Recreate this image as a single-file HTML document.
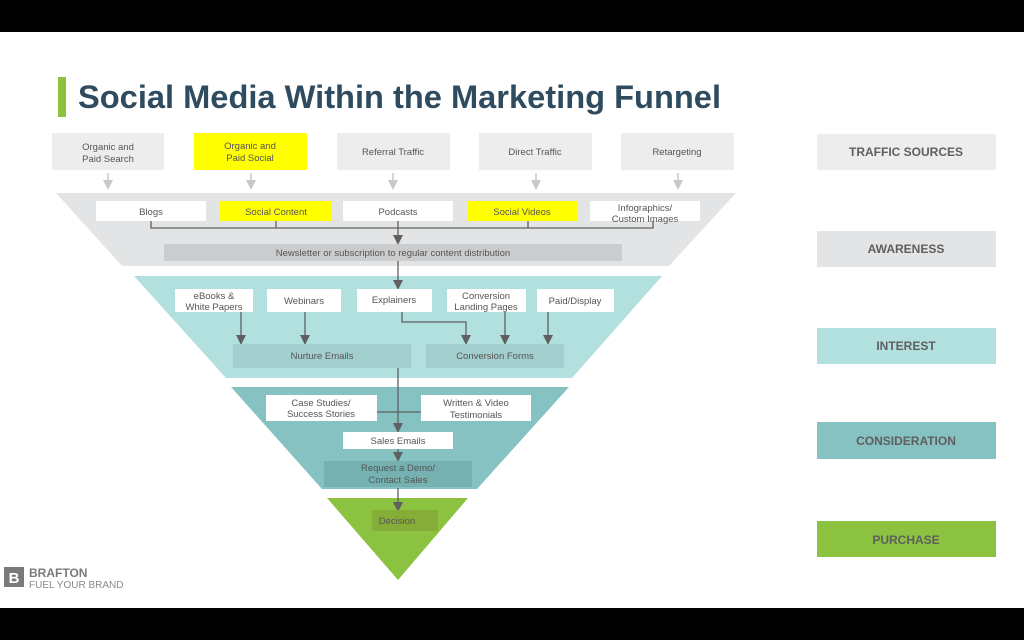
<!DOCTYPE html>
<html><head><meta charset="utf-8"><style>
html,body{margin:0;padding:0;background:#fff}
svg{display:block}
text{font-family:"Liberation Sans",sans-serif}
</style></head><body>
<svg width="1024" height="640" viewBox="0 0 1024 640" xmlns="http://www.w3.org/2000/svg">
<defs>
<marker id="ad" markerWidth="10" markerHeight="10" refX="8" refY="5" orient="auto" markerUnits="userSpaceOnUse"><path d="M0,0 L10,5 L0,10 Z" fill="#606060"/></marker>
<marker id="al" markerWidth="10" markerHeight="10" refX="8" refY="5" orient="auto" markerUnits="userSpaceOnUse"><path d="M0,0 L10,5 L0,10 Z" fill="#c8c9ca"/></marker>
</defs>
<rect x="0" y="0" width="1024" height="32" fill="#000"/>
<rect x="0" y="608" width="1024" height="32" fill="#000"/>
<rect x="58" y="77" width="8" height="40" fill="#8bc23f"/>
<text x="78" y="108" font-size="32" font-weight="bold" fill="#2f4b5f" textLength="643" lengthAdjust="spacingAndGlyphs">Social Media Within the Marketing Funnel</text>

<g font-size="9.5" fill="#555" text-anchor="middle">
<rect x="52" y="133" width="112" height="37" fill="#ededed"/><text x="108" y="150">Organic and</text><text x="108" y="162">Paid Search</text>
<rect x="194" y="133" width="113" height="37" fill="#ffff00"/><text x="250" y="149">Organic and</text><text x="250" y="161">Paid Social</text>
<rect x="337" y="133" width="113" height="37" fill="#ededed"/><text x="393" y="155">Referral Traffic</text>
<rect x="479" y="133" width="113" height="37" fill="#ededed"/><text x="535" y="155">Direct Traffic</text>
<rect x="621" y="133" width="113" height="37" fill="#ededed"/><text x="677" y="155">Retargeting</text>
</g>
<g stroke="#c8c9ca" stroke-width="1.5" marker-end="url(#al)">
<line x1="108" y1="173" x2="108" y2="188"/><line x1="251" y1="173" x2="251" y2="188"/><line x1="393" y1="173" x2="393" y2="188"/><line x1="536" y1="173" x2="536" y2="188"/><line x1="678" y1="173" x2="678" y2="188"/>
</g>

<polygon points="56,193 736,193 669,266 122,266" fill="#e3e4e5"/>
<polygon points="134,276 662,276 572,378 226,378" fill="#b1e0df"/>
<polygon points="231,387 569,387 477,489 322,489" fill="#86c2c1"/>
<polygon points="327,498 468,498 398,580" fill="#8bc23f"/>

<g stroke="#606060" stroke-width="1.3" fill="none">
<polyline points="151,221 151,228 653,228 653,221"/>
<line x1="276" y1="221" x2="276" y2="228"/><line x1="528" y1="221" x2="528" y2="228"/>
<line x1="398" y1="221" x2="398" y2="243" marker-end="url(#ad)"/>
<line x1="398" y1="261" x2="398" y2="288" marker-end="url(#ad)"/>
<line x1="241" y1="312" x2="241" y2="343" marker-end="url(#ad)"/>
<line x1="305" y1="312" x2="305" y2="343" marker-end="url(#ad)"/>
<polyline points="402,312 402,322 466,322 466,343" marker-end="url(#ad)"/>
<line x1="505" y1="312" x2="505" y2="343" marker-end="url(#ad)"/>
<line x1="548" y1="312" x2="548" y2="343" marker-end="url(#ad)"/>
<line x1="398" y1="368" x2="398" y2="431" marker-end="url(#ad)"/>
<line x1="377" y1="412" x2="421" y2="412"/>
<line x1="398" y1="449" x2="398" y2="460" marker-end="url(#ad)"/>
<line x1="398" y1="488" x2="398" y2="510" marker-end="url(#ad)"/>
</g>

<g font-size="9.5" fill="#555" text-anchor="middle">
<rect x="96" y="201" width="110" height="20" fill="#fff"/><text x="151" y="215">Blogs</text>
<rect x="220" y="201" width="112" height="20" fill="#ffff00"/><text x="276" y="215">Social Content</text>
<rect x="343" y="201" width="110" height="20" fill="#fff"/><text x="398" y="215">Podcasts</text>
<rect x="467" y="201" width="110" height="20" fill="#ffff00"/><text x="522" y="215">Social Videos</text>
<rect x="590" y="201" width="110" height="20" fill="#fff"/><text x="645" y="211">Infographics/</text><text x="645" y="222">Custom Images</text>
<rect x="164" y="244" width="458" height="17" fill="#cbcccd"/><text x="393" y="256">Newsletter or subscription to regular content distribution</text>

<rect x="175" y="289" width="78" height="23" fill="#fff"/><text x="214" y="299">eBooks &amp;</text><text x="214" y="310">White Papers</text>
<rect x="267" y="289" width="74" height="23" fill="#fff"/><text x="304" y="304">Webinars</text>
<rect x="357" y="289" width="75" height="23" fill="#fff"/><text x="394" y="303">Explainers</text>
<rect x="447" y="289" width="79" height="23" fill="#fff"/><text x="486" y="299">Conversion</text><text x="486" y="310">Landing Pages</text>
<rect x="537" y="289" width="77" height="23" fill="#fff"/><text x="575" y="304">Paid/Display</text>
<rect x="233" y="344" width="178" height="24" fill="#a2cfcd"/><text x="322" y="359">Nurture Emails</text>
<rect x="426" y="344" width="138" height="24" fill="#a2cfcd"/><text x="495" y="359">Conversion Forms</text>

<rect x="266" y="395" width="111" height="26" fill="#fff"/><text x="321" y="406">Case Studies/</text><text x="321" y="417">Success Stories</text>
<rect x="421" y="395" width="110" height="26" fill="#fff"/><text x="476" y="406">Written &amp; Video</text><text x="476" y="418">Testimonials</text>
<rect x="343" y="432" width="110" height="17" fill="#fff"/><text x="398" y="444">Sales Emails</text>
<rect x="324" y="461" width="148" height="26" fill="#75b1b0"/><text x="398" y="471">Request a Demo/</text><text x="398" y="483">Contact Sales</text>
<rect x="372" y="510" width="66" height="21" fill="#86ad38"/><text x="397" y="524">Decision</text>
</g>

<g font-size="12" font-weight="bold" fill="#5f5f5f" text-anchor="middle">
<rect x="817" y="134" width="179" height="36" fill="#ededed"/><text x="906" y="156">TRAFFIC SOURCES</text>
<rect x="817" y="231" width="179" height="36" fill="#e3e4e5"/><text x="906" y="253">AWARENESS</text>
<rect x="817" y="328" width="179" height="36" fill="#b1e0df"/><text x="906" y="350">INTEREST</text>
<rect x="817" y="422" width="179" height="37" fill="#86c2c1"/><text x="906" y="445">CONSIDERATION</text>
<rect x="817" y="521" width="179" height="36" fill="#8bc23f"/><text x="906" y="544">PURCHASE</text>
</g>

<rect x="4" y="567" width="20" height="20" fill="#7a7a7a"/>
<text x="14" y="583" font-size="15" font-weight="bold" fill="#fff" text-anchor="middle" font-family="Liberation Serif">B</text>
<text x="29" y="577" font-size="12" font-weight="bold" fill="#7a7a7a">BRAFTON</text>
<text x="29" y="588" font-size="10" fill="#8a8a8a">FUEL YOUR BRAND</text>
</svg>
</body></html>
